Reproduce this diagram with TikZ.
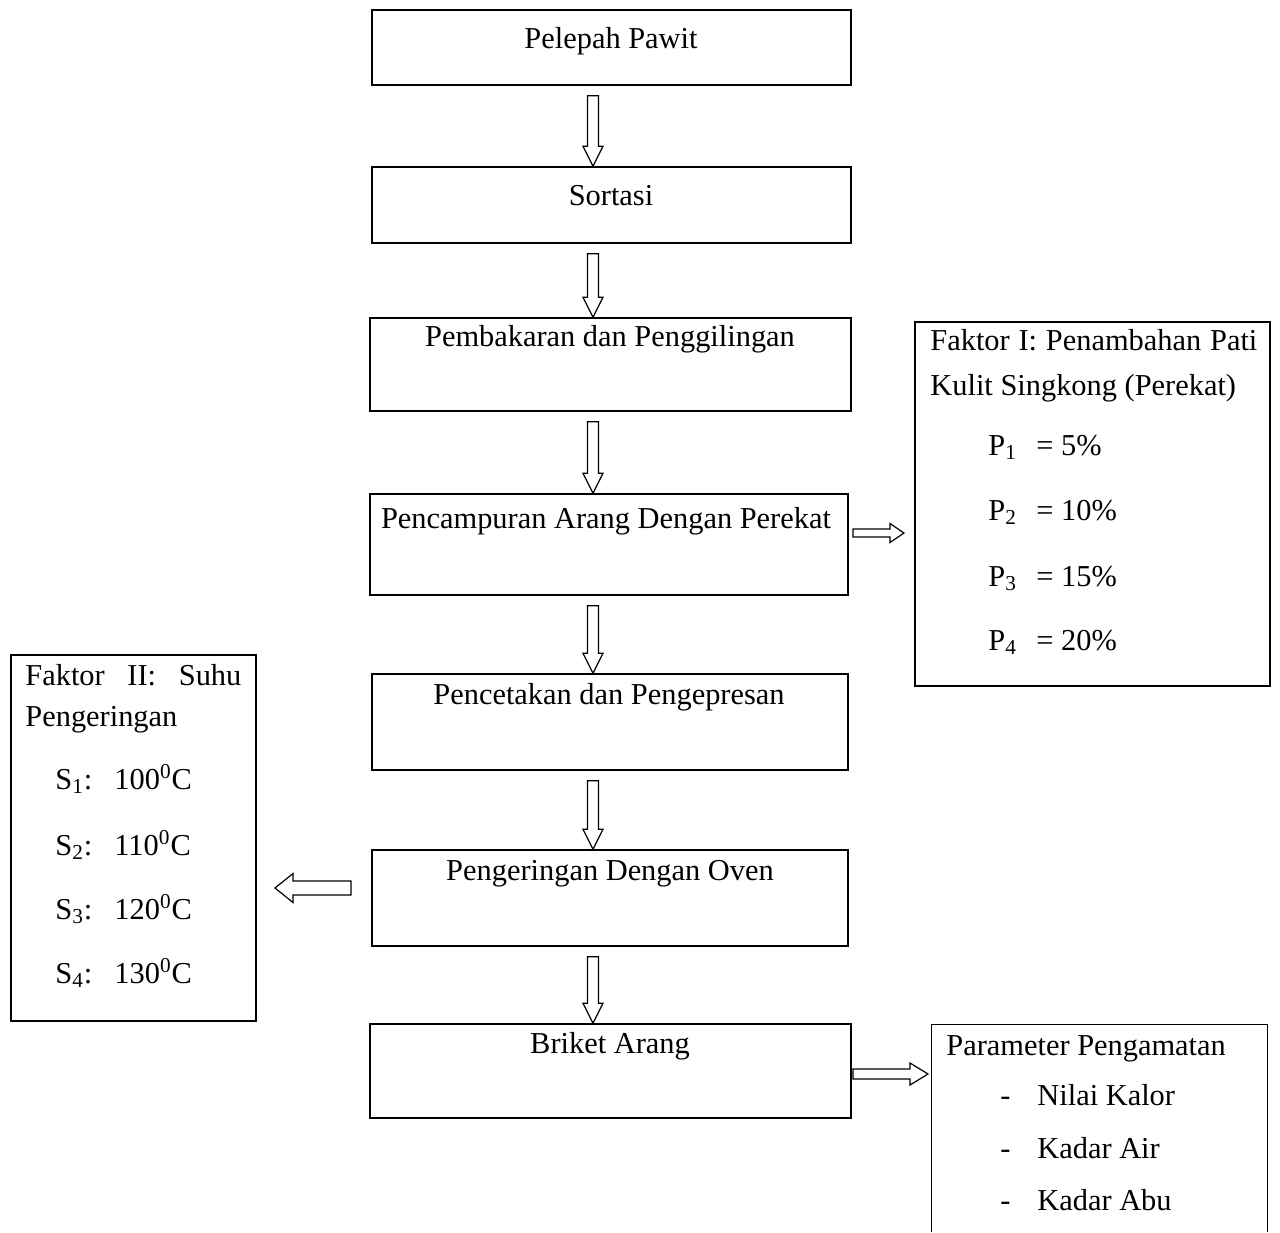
\documentclass[tikz,border=0pt]{standalone}
\usepackage{fontspec}
\setmainfont{Liberation Serif}
\usetikzlibrary{calc,fit}
\tikzset{
  box/.style={draw, line width=0.8pt, inner sep=0pt},
  ghost/.style={inner sep=0pt},
  txt/.style={anchor=base, inner sep=0pt},
  ltxt/.style={anchor=base west, inner sep=0pt},
  arrowshape/.style={draw, line width=0.6pt, fill=white, line join=miter}
}
\newcommand\blockarr[5]{%
  \coordinate (bs) at (#4);
  \coordinate (be) at (#5);
  \coordinate (bh) at ($(be)!#3!(bs)$);
  \draw[arrowshape] ($(bs)!#1!90:(be)$) -- ($(bh)!#1!90:(be)$) -- ($(bh)!#2!90:(be)$)
    -- (be) -- ($(bh)!#2!-90:(be)$) -- ($(bh)!#1!-90:(be)$) -- ($(bs)!#1!-90:(be)$) -- cycle;
}
\begin{document}
\begin{tikzpicture}[x=0.5pt, y=-0.5pt, every node/.style={font=\fontsize{15.2}{18}\selectfont}]
\useasboundingbox (0,0) rectangle (1280,1232);
% main boxes
\node[box, fit={(372,10) (851,85)}] (n1) {};
\node[box, fit={(372,167) (851,243)}] (n2) {};
\node[box, fit={(370,318) (851,411)}] (n3) {};
\node[box, fit={(370,494) (848,595)}] (n4) {};
\node[box, fit={(372,674) (848,770)}] (n5) {};
\node[box, fit={(372,850) (848,946)}] (n6) {};
\node[box, fit={(370,1024) (851,1118)}] (n7) {};
\node[txt] (t1) at (611,48) {Pelepah Pawit};
\node[txt] (t2) at (611,205) {Sortasi};
\node[txt] (t3) at (610,346) {Pembakaran dan Penggilingan};
\node[txt] (t4) at (606,528) {Pencampuran Arang Dengan Perekat};
\node[txt] (t5) at (609,704) {Pencetakan dan Pengepresan};
\node[txt] (t6) at (610,880) {Pengeringan Dengan Oven};
\node[txt] (t7) at (610,1053) {Briket Arang};
% side boxes
\node[box, fit={(915,322) (1270,686)}] (f1) {};
\node[box, fit={(11,655) (256,1021)}] (f2) {};
\node[ghost, fit={(932,1025) (1267,1232)}] (pp) {};
\draw[line width=0.8pt] (pp.south west) -- (pp.north west) -- (pp.north east) -- (pp.south east);
% Faktor I text
\node[ltxt] (f1a) at (930,350) {\makebox[163.5pt][s]{Faktor I: Penambahan Pati}};
\node[ltxt] (f1b) at (930,395) {Kulit Singkong (Perekat)};
\node[ltxt] (p1) at (988,455) {P\textsubscript{1}};
\node[ltxt] (p1v) at (1036,455) {= 5\%};
\node[ltxt] (p2) at (988,520) {P\textsubscript{2}};
\node[ltxt] (p2v) at (1036,520) {= 10\%};
\node[ltxt] (p3) at (988,586) {P\textsubscript{3}};
\node[ltxt] (p3v) at (1036,586) {= 15\%};
\node[ltxt] (p4) at (988,650) {P\textsubscript{4}};
\node[ltxt] (p4v) at (1036,650) {= 20\%};
% Faktor II text
\node[ltxt] (f2a) at (25,685) {\makebox[108pt][s]{Faktor II: Suhu}};
\node[ltxt] (f2b) at (25,726) {Pengeringan};
\node[ltxt] (s1) at (55,789) {S\textsubscript{1}:};
\node[ltxt] (s1v) at (114,789) {100\textsuperscript{0}C};
\node[ltxt] (s2) at (55,855) {S\textsubscript{2}:};
\node[ltxt] (s2v) at (114,855) {110\textsuperscript{0}C};
\node[ltxt] (s3) at (55,919) {S\textsubscript{3}:};
\node[ltxt] (s3v) at (114,919) {120\textsuperscript{0}C};
\node[ltxt] (s4) at (55,983) {S\textsubscript{4}:};
\node[ltxt] (s4v) at (114,983) {130\textsuperscript{0}C};
% Parameter text
\node[ltxt] (pa) at (946,1055) {Parameter Pengamatan};
\node[ltxt] (d1) at (1000,1105) {-};
\node[ltxt] (i1) at (1037,1105) {Nilai Kalor};
\node[ltxt] (d2) at (1000,1158) {-};
\node[ltxt] (i2) at (1037,1158) {Kadar Air};
\node[ltxt] (d3) at (1000,1210) {-};
\node[ltxt] (i3) at (1037,1210) {Kadar Abu};
% vertical arrows
\coordinate (ax) at (593,0);
\blockarr{2.75pt}{5pt}{10pt}{$(ax |- n1.south)+(0,10)$}{ax |- n2.north}
\blockarr{2.75pt}{5pt}{10pt}{$(ax |- n2.south)+(0,10)$}{ax |- n3.north}
\blockarr{2.75pt}{5pt}{10pt}{$(ax |- n3.south)+(0,10)$}{ax |- n4.north}
\blockarr{2.75pt}{5pt}{10pt}{$(ax |- n4.south)+(0,10)$}{ax |- n5.north}
\blockarr{2.75pt}{5pt}{10pt}{$(ax |- n5.south)+(0,10)$}{ax |- n6.north}
\blockarr{2.75pt}{5pt}{10pt}{$(ax |- n6.south)+(0,10)$}{ax |- n7.north}
% horizontal arrows
\coordinate (h1s) at (853,533);
\coordinate (h1e) at (904,533);
\blockarr{2pt}{4.75pt}{7pt}{h1s}{h1e}
\coordinate (h2s) at (351,888);
\coordinate (h2e) at (275,888);
\blockarr{3.5pt}{7.25pt}{9pt}{h2s}{h2e}
\coordinate (h3s) at (853,1074);
\coordinate (h3e) at (928,1074);
\blockarr{2.5pt}{5.5pt}{9pt}{h3s}{h3e}
\end{tikzpicture}
\end{document}
